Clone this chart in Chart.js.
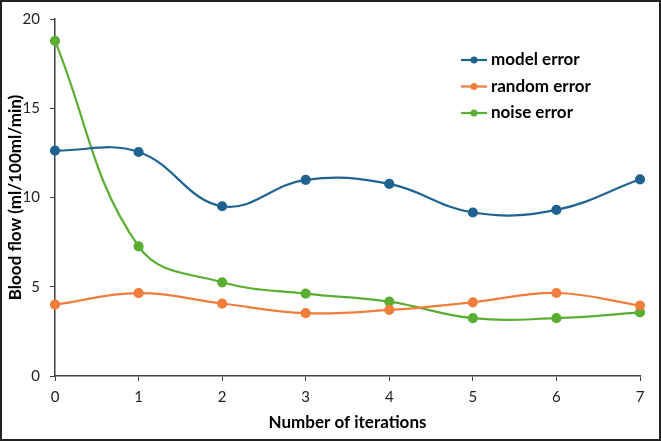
<!DOCTYPE html>
<html>
<head>
<meta charset="utf-8">
<script src="https://cdn.jsdelivr.net/npm/chart.js@4/dist/chart.umd.min.js"></script>
<style>
  html, body { margin: 0; padding: 0; background: #fff; }
  #wrap { width: 661px; height: 441px; }
</style>
</head>
<body>
<div id="wrap"><canvas id="lineChart" width="661" height="441"></canvas></div>
<script>
// data
const iterations = ['0', '1', '2', '3', '4', '5', '6', '7'];
const modelError = [12.63, 12.55, 9.51, 10.99, 10.76, 9.16, 9.31, 11.02];
const randomError = [4.0, 4.64, 4.06, 3.52, 3.70, 4.13, 4.65, 3.95];
const noiseError = [18.77, 7.26, 5.25, 4.62, 4.17, 3.24, 3.24, 3.56];
const yTicks = [0, 5, 10, 15, 20];

const FONT = 'Lato, "Open Sans", sans-serif';
const axisColor = '#404040';

const makeSet = (label, data, color) => ({
    label,
    data,
    borderColor: color,
    backgroundColor: color,
    borderWidth: 2.2,
    pointRadius: 4,
    pointHoverRadius: 4,
    tension: 0.4,
    fill: false
});

// legend drawn inside the plot like the original, plus the frame
const insideLegend = {
    id: 'insideLegend',
    afterDraw(chart) {
        const ctx = chart.ctx;
        ctx.save();
        chart.data.datasets.forEach((ds, i) => {
            const y = 60 + i * 26.5;
            ctx.strokeStyle = ds.borderColor;
            ctx.lineWidth = 2.2;
            ctx.beginPath();
            ctx.moveTo(461, y);
            ctx.lineTo(487, y);
            ctx.stroke();
            ctx.fillStyle = ds.borderColor;
            ctx.beginPath();
            ctx.arc(474, y, 3.5, 0, Math.PI * 2);
            ctx.fill();
            ctx.fillStyle = '#000';
            ctx.font = 'bold 17px ' + FONT;
            ctx.textBaseline = 'middle';
            ctx.textAlign = 'left';
            ctx.fillText(ds.label, 491, y);
        });
        ctx.strokeStyle = '#222';
        ctx.lineWidth = 2;
        ctx.strokeRect(1, 1, chart.width - 2, chart.height - 2);
        ctx.restore();
    }
};

new Chart(document.getElementById('lineChart').getContext('2d'), {
    type: 'line',
    data: {
        labels: iterations,
        datasets: [
            makeSet('model error', modelError, '#1f6391'),
            makeSet('random error', randomError, '#f07d3b'),
            makeSet('noise error', noiseError, '#5aae32')
        ]
    },
    options: {
        responsive: false,
        animation: false,
        layout: { padding: { top: 18, right: 21, left: 0, bottom: 0 } },
        plugins: {
            legend: { display: false },
            tooltip: { enabled: false }
        },
        scales: {
            x: {
                offset: false,
                border: { display: true, color: axisColor, width: 1.5 },
                grid: { display: true, drawOnChartArea: false, drawTicks: true, tickLength: 5, color: axisColor },
                ticks: { color: '#222', font: { family: FONT, size: 15 }, padding: 7, maxRotation: 0 },
                title: {
                    display: true,
                    text: 'Number of iterations',
                    color: '#000',
                    font: { family: FONT, size: 17, weight: 'bold' },
                    padding: { top: 0, bottom: 8 }
                },
                afterFit: (scale) => { scale.height = 65; }
            },
            y: {
                min: 0,
                max: 20,
                afterBuildTicks: (scale) => { scale.ticks = yTicks.map(v => ({ value: v })); },
                border: { display: true, color: axisColor, width: 1.5 },
                grid: { display: true, drawOnChartArea: false, drawTicks: true, tickLength: 5, color: axisColor },
                ticks: { color: '#222', font: { family: FONT, size: 15 }, padding: 10 },
                title: {
                    display: true,
                    text: 'Blood flow (ml/100ml/min)',
                    color: '#000',
                    font: { family: FONT, size: 17, weight: 'bold' },
                    padding: { top: 5, bottom: 0 }
                },
                afterFit: (scale) => { scale.width = 55; }
            }
        }
    },
    plugins: [insideLegend]
});
</script>
</body>
</html>
